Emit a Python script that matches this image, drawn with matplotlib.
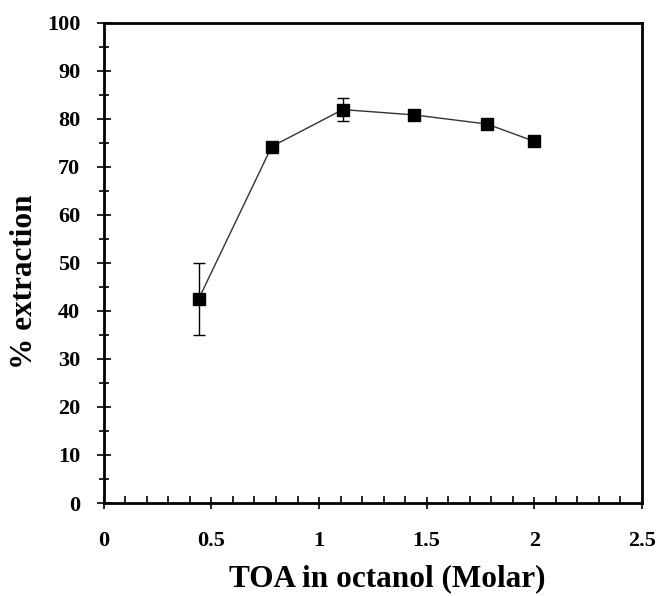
import numpy as np
import matplotlib.pyplot as plt
from matplotlib.ticker import MultipleLocator

# TOA concentration (M) vs extraction efficiency
toa_conc = [0.44, 0.78, 1.11, 1.44, 1.78, 2.0]
extraction = [42.4, 74.2, 81.9, 80.8, 78.9, 75.3]
extraction_err = [7.5, 0.6, 2.4, 0.5, 1.0, 0.4]

plt.rcParams['font.family'] = ['Liberation Serif', 'DejaVu Serif']
plt.rcParams['font.weight'] = 'bold'

fig = plt.figure(figsize=(6.57, 5.96), dpi=100)
ax = fig.add_axes([0.158, 0.156, 0.819, 0.806])

ax.errorbar(toa_conc, extraction, yerr=extraction_err, fmt='s-', color='#333333',
            ecolor='black', elinewidth=1, capsize=4, capthick=1,
            markersize=8, linewidth=1, markerfacecolor='black',
            markeredgecolor='black')

ax.set_xlim(0, 2.5)
ax.set_ylim(0, 100)
ax.set_xticks([0, 0.5, 1, 1.5, 2, 2.5])
ax.set_xticklabels(['0', '0.5', '1', '1.5', '2', '2.5'])
ax.xaxis.set_minor_locator(MultipleLocator(0.1))
ax.yaxis.set_major_locator(MultipleLocator(10))
ax.yaxis.set_minor_locator(MultipleLocator(5))

ax.tick_params(axis='x', which='major', direction='inout', length=8, width=1.2,
               labelsize=16, pad=16)
ax.tick_params(axis='x', which='minor', direction='in', length=5, width=1.2)
ax.tick_params(axis='y', which='major', direction='inout', length=10, width=1.2,
               labelsize=16, pad=12)
ax.tick_params(axis='y', which='minor', direction='inout', length=7, width=1.2)

for s in ax.spines.values():
    s.set_linewidth(2)

ax.set_xlabel('TOA in octanol (Molar)', fontsize=22.5, fontweight='bold')
ax.xaxis.set_label_coords(0.527, -0.128)
ax.set_ylabel('% extraction', fontsize=22.5, fontweight='bold')
ax.yaxis.set_label_coords(-0.12, 0.46)

fig.savefig('out.png', dpi=100)
